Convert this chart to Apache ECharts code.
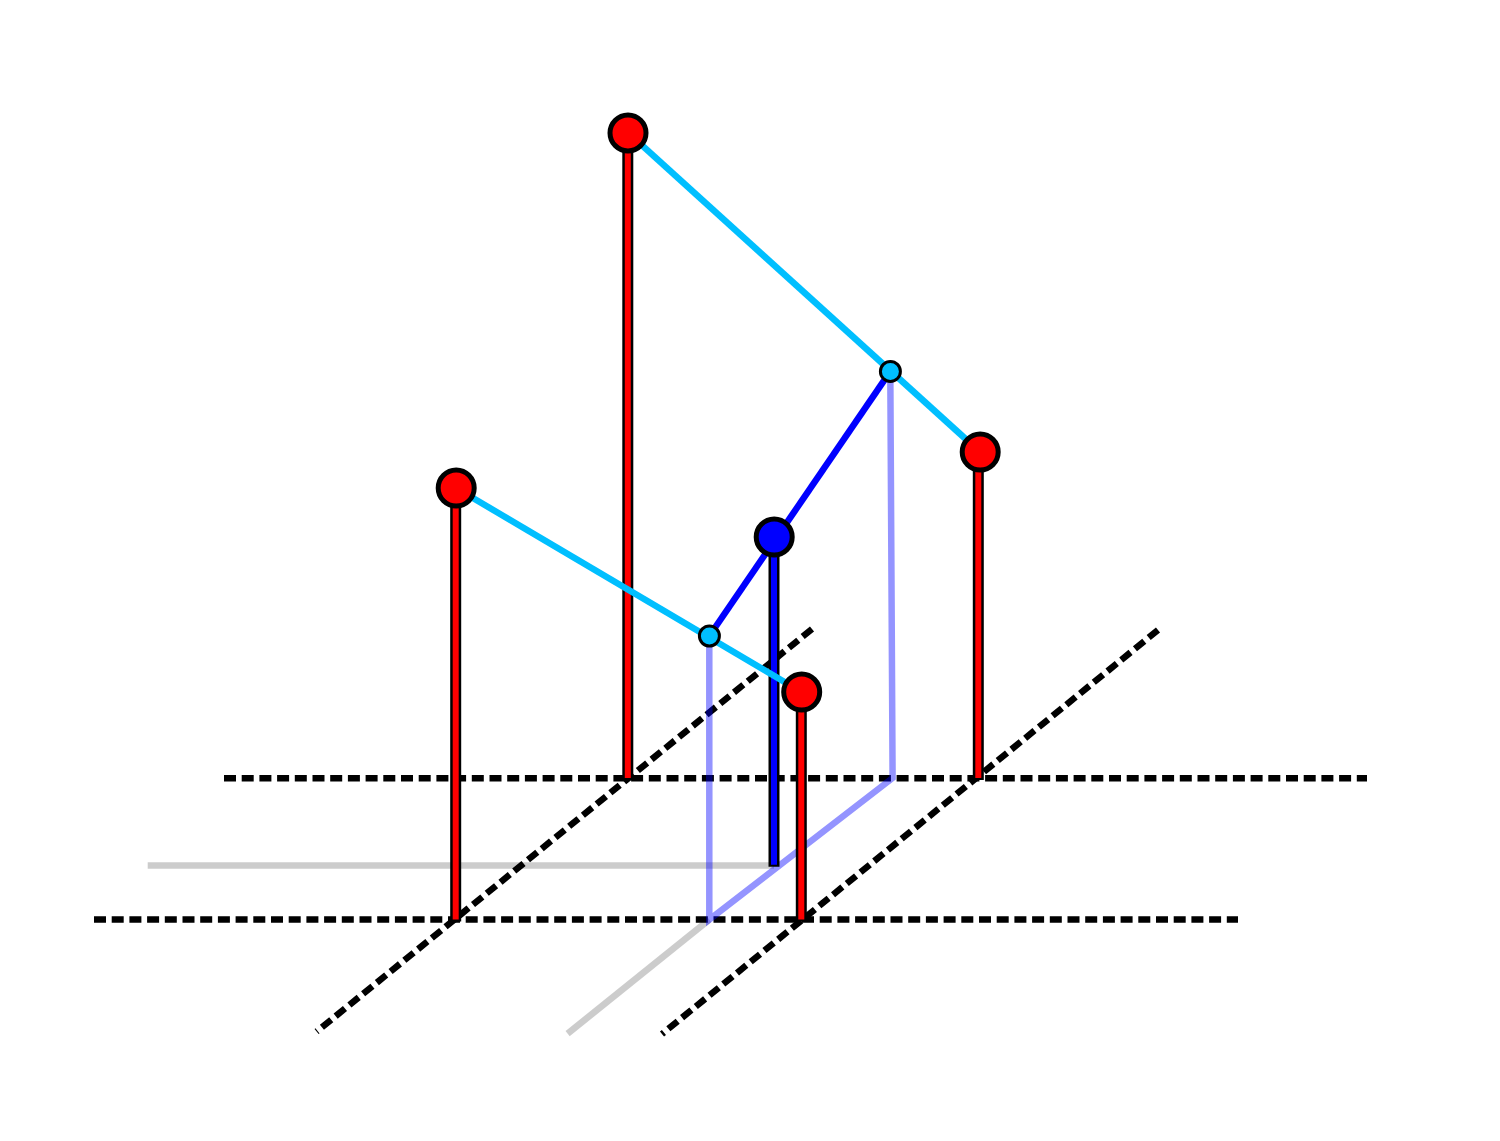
<!DOCTYPE html>
<html><head><meta charset="utf-8">
<style>html,body{margin:0;padding:0;background:#fff}#c{width:1500px;height:1141px}</style>
<script src="https://cdn.jsdelivr.net/npm/echarts@6/dist/echarts.min.js"></script>
</head><body><div id="c"></div>
<script>
// Values, in the picture's plane units (x right, y down)
const dashedUpper = [[224,778.3],[1367,778.3]];
const dashedLower = [[94,919.6],[1238,919.6]];
const dashedLeft  = [[812,629],[316.6,1031.6]];
const dashedRight = [[1158,630],[662,1034]];
const shadowHoriz = [[147.7,865.4],[774,865.4]];
const shadowDiag  = [[709.3,919.6],[567.6,1033.6]];
const projection  = [[709.3,636],[709.3,919.6],[892.6,778],[890.3,371.3]];
const stemsRed = [
  [[455.7,488],[455.7,921.5]],
  [[627.8,133],[627.8,780]],
  [[801.3,692],[801.3,921.5]],
  [[978.3,452],[978.3,780]]
];
const stemBlue = [[774,537],[774,866.8]];
const linkA = [[628,132.7],[980,452]];
const linkB = [[456,488],[801.5,692]];
const linkBlue = [[709.3,636],[890.3,371.3]];
const redPoints = [[456.2,488],[628,132.9],[801.7,692],[980.2,452]];
const bluePoints = [[774.2,537]];
const midPoints = [[709.4,636],[890.4,371.4]];

const line = (data, color, width, extra) => ({
  type:'line', data, showSymbol:false, symbol:'none', silent:true, clip:false, animation:false,
  lineStyle:Object.assign({color, width, cap:'butt', join:'miter', miterLimit:10}, extra||{})
});
const dashed = d => line(d,'#000',6.5,{type:[12,5.7],cap:'butt'});
const stem = (d, color) => {
  const inner = [d[0],[d[1][0],d[1][1]-2]];
  return [line(d,'#000',11), line(inner,color,6)];
};
const dots = (data,color,size,bw) => ({
  type:'scatter', data, symbol:'circle', symbolSize:size, silent:true, clip:false, animation:false,
  itemStyle:{color, borderColor:'#000', borderWidth:bw, opacity:1}
});

const series = [
  dashed(dashedUpper), dashed(dashedLower), dashed(dashedLeft), dashed(dashedRight),
  line(shadowHoriz,'rgba(0,0,0,0.2)',6.5), line(shadowDiag,'rgba(0,0,0,0.2)',6.5),
  line(projection,'rgba(0,0,255,0.42)',6.5),
  ...stem(stemsRed[0],'#ff0000'), ...stem(stemsRed[1],'#ff0000'),
  ...stem(stemBlue,'#0000ff'),
  ...stem(stemsRed[2],'#ff0000'), ...stem(stemsRed[3],'#ff0000'),
  line(linkBlue,'#0000ff',6.5),
  line(linkA,'#00bfff',6.5), line(linkB,'#00bfff',6.5),
  dots(redPoints,'#ff0000',36,5), dots(bluePoints,'#0000ff',36,5), dots(midPoints,'#00bfff',20,3)
];
series.forEach((s,i)=>{ s.z = i+2; });

const chart = echarts.init(document.getElementById('c'), null, {renderer:'canvas'});
chart.setOption({
  animation:false, backgroundColor:'#fff',
  grid:{left:0,right:0,top:0,bottom:0},
  xAxis:{type:'value',min:0,max:1500,show:false},
  yAxis:{type:'value',min:0,max:1141,inverse:true,show:false},
  series
});
</script></body></html>
